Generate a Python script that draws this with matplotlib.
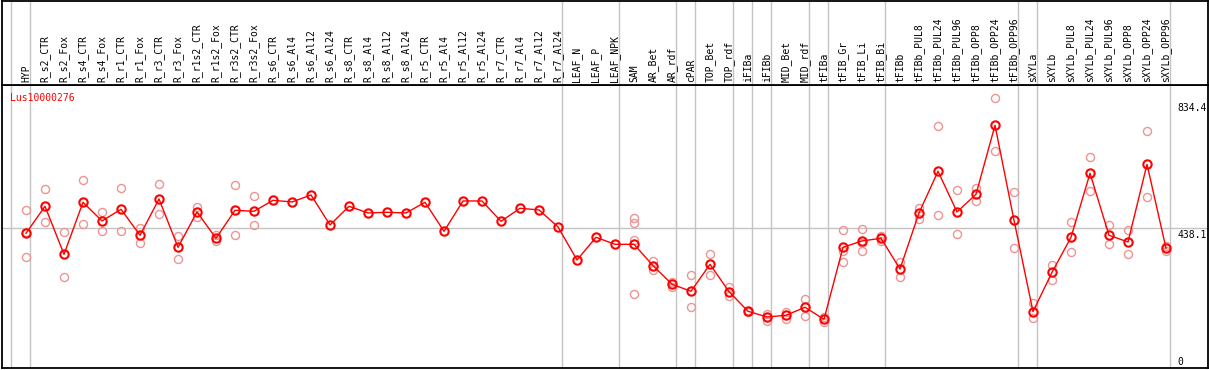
import matplotlib
matplotlib.use("Agg")
import matplotlib.pyplot as plt

# Sample names (header labels)
samples = [
    "HYP",
    "R_s2_CTR", "R_s2_Fox", "R_s4_CTR", "R_s4_Fox", "R_r1_CTR", "R_r1_Fox",
    "R_r3_CTR", "R_r3_Fox", "R_r1s2_CTR", "R_r1s2_Fox", "R_r3s2_CTR", "R_r3s2_Fox",
    "R_s6_CTR", "R_s6_Al4", "R_s6_Al12", "R_s6_Al24",
    "R_s8_CTR", "R_s8_Al4", "R_s8_Al12", "R_s8_Al24",
    "R_r5_CTR", "R_r5_Al4", "R_r5_Al12", "R_r5_Al24",
    "R_r7_CTR", "R_r7_Al4", "R_r7_Al12", "R_r7_Al24",
    "LEAF_N", "LEAF_P", "LEAF_NPK",
    "SAM", "AR_Bet", "AR_rdf", "cPAR", "TOP_Bet", "TOP_rdf",
    "iFIBa", "iFIBb", "MID_Bet", "MID_rdf",
    "tFIBa", "tFIB_Gr", "tFIB_Li", "tFIB_Bi",
    "tFIBb", "tFIBb_PUL8", "tFIBb_PUL24", "tFIBb_PUL96",
    "tFIBb_OPP8", "tFIBb_OPP24", "tFIBb_OPP96",
    "sXYLa", "sXYLb", "sXYLb_PUL8", "sXYLb_PUL24", "sXYLb_PUL96",
    "sXYLb_OPP8", "sXYLb_OPP24", "sXYLb_OPP96",
]

# Mean expression per sample
means = [
    422.5,
    507.0, 356.7, 519.5, 461.1, 497.6, 416.2, 529.9, 378.6, 489.2, 406.8, 494.4, 491.3,
    525.7, 520.5, 542.4, 448.5,
    507.0, 486.1, 488.2, 486.1,
    519.5, 428.7, 523.6, 523.6,
    460.0, 500.7, 495.5, 442.3,
    339.0, 409.9, 388.0,
    388.0, 321.3, 262.9, 241.0, 325.4, 239.9,
    178.4, 160.6, 165.9, 190.9,
    153.3, 378.6, 398.5, 406.8,
    310.8, 486.1, 616.5, 489.2, 544.5, 760.4, 463.1,
    177.3, 300.4, 409.9, 610.2, 416.2, 395.3, 638.4, 375.5,
]

# Replicate values per sample
replicates = [
    [494.4, 427.7, 347.4],
    [560.1, 457.9], [426.6, 284.8], [588.3, 450.6], [489.2, 428.7],
    [563.3, 428.7], [440.2, 393.2], [576.8, 481.9], [413.1, 342.1],
    [503.8, 474.6], [417.2, 398.5], [572.7, 416.2], [539.3, 447.5],
    [], [], [], [],
    [], [], [], [],
    [], [], [], [],
    [], [], [], [],
    [], [], [],
    [469.4, 455.8, 401.6, 231.6], [335.9, 307.7], [271.2, 255.6],
    [291.0, 190.9], [356.7, 291.0], [254.5, 225.3],
    [180.5, 176.3], [171.1, 148.1], [177.3, 153.3], [215.9, 162.7],
    [161.7, 146.0], [431.8, 367.2, 331.7], [435.0, 392.2, 368.2], [415.2, 398.5],
    [333.8, 284.8], [502.8, 466.3], [757.3, 478.8], [557.0, 419.3],
    [565.4, 522.6], [844.9, 679.1], [550.8, 375.5],
    [203.4, 156.5], [322.3, 277.5], [456.9, 363.0], [660.3, 556.0],
    [447.5, 388.0], [432.9, 356.7], [741.6, 535.1], [381.8, 368.2],
]

# last sample index of each tissue group
group_ends = [-1, 0, 28, 31, 34, 35, 37, 38, 39, 41, 42, 45, 52, 53, 60]

y_labels = [834.4, 438.1]
gene = "Lus10000276"

W, H = 1209, 370
fig = plt.figure(figsize=(W / 100, H / 100), dpi=100)
mono = "DejaVu Sans Mono"
grey = "#c4c4c4"

x_left, x_right = -1.29, 62.21
ax = fig.add_axes([1.5 / W, (H - 368.3) / H, 1206.5 / W, 283.3 / H])
head = fig.add_axes([1.5 / W, (H - 85) / H, 1206.5 / W, 84.5 / H])

for a in (ax, head):
    a.set_xlim(x_left, x_right)
    a.set_xticks([])
    a.set_yticks([])
    for s in a.spines.values():
        s.set_linewidth(1.3)
    for k in group_ends:
        a.axvline(k + 0.23, color=grey, lw=1, zorder=0)

ax.set_ylim(0, 886.5)
head.set_ylim(0, 84.5)

xs = list(range(len(samples)))
for i, name in enumerate(samples):
    head.text(i, 3, name, rotation=90, ha="center", va="bottom",
              fontsize=7, family=mono)

ax.axhline(438.1, color=grey, lw=1, zorder=0)

# replicates
for i, vals in enumerate(replicates):
    ax.plot([i] * len(vals), vals, "o", ms=5.8, mfc="none", mec="#ee9494",
            mew=1, zorder=2)

# mean profile
ax.plot(xs, means, "-", color="red", lw=1, zorder=3)
ax.plot(xs, means, "o", ms=6, mfc="none", mec="red", mew=1.5, zorder=4)

ax.text(-0.85, 862, gene, color="red", fontsize=7, family=mono,
        ha="left", va="top")
for v in y_labels:
    ax.text(60.6, v - 4, f"{v}", fontsize=7, family=mono, ha="left", va="top")
ax.text(60.6, 4, "0", fontsize=7, family=mono, ha="left", va="bottom")

fig.savefig("out.png", dpi=100)
